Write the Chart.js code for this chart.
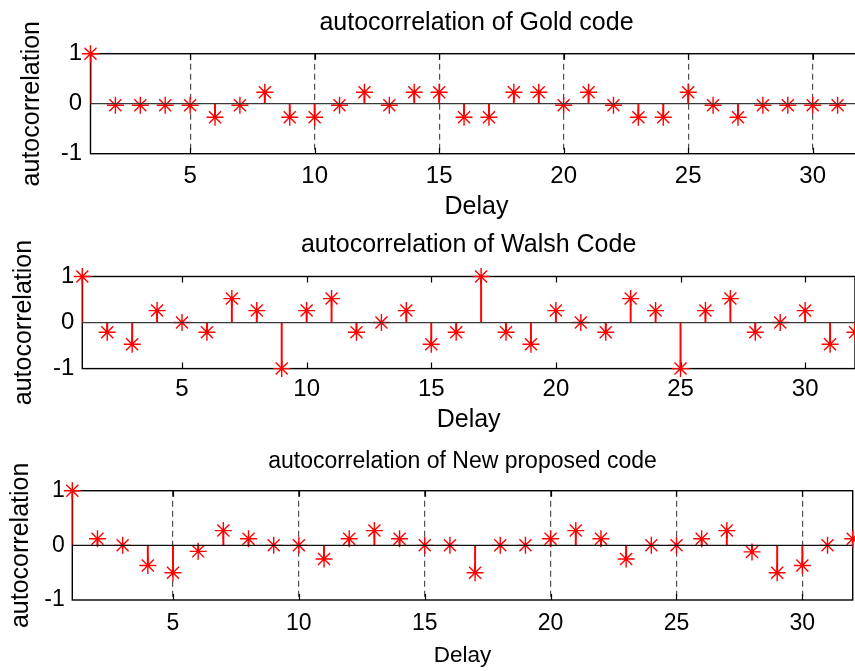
<!DOCTYPE html>
<html>
<head>
<meta charset="utf-8">
<title>Autocorrelation of spreading codes</title>
<script src="https://cdn.jsdelivr.net/npm/chart.js@4.4.1/dist/chart.umd.min.js"></script>
<style>
  html, body { margin: 0; padding: 0; background: #fff; overflow: hidden; }
  #fig { position: relative; width: 855px; height: 671px; overflow: hidden; background: #fff; }
  #fig canvas { position: absolute; left: 0; }
</style>
</head>
<body>
<div id="fig">
  <canvas id="gold" width="880" height="225" style="top:0px"></canvas>
  <canvas id="walsh" width="880" height="215" style="top:225px"></canvas>
  <canvas id="proposed" width="880" height="231" style="top:440px"></canvas>
</div>
<script>
// Delay index (lag) for each autocorrelation sample
const delays = [1, 2, 3, 4, 5, 6, 7, 8, 9, 10, 11, 12, 13, 14, 15, 16,
                17, 18, 19, 20, 21, 22, 23, 24, 25, 26, 27, 28, 29, 30, 31, 32];

// Normalised autocorrelation, Gold code (length 31)
const goldAutocorr = [1, -0.03, -0.03, -0.03, -0.03, -0.27, -0.03, 0.23, -0.27, -0.27,
                      -0.03, 0.23, -0.03, 0.23, 0.23, -0.27, -0.27, 0.23, 0.23, -0.03,
                      0.23, -0.03, -0.27, -0.27, 0.23, -0.03, -0.27, -0.03, -0.03, -0.03,
                      -0.03];

// Normalised autocorrelation, Walsh code
const walshAutocorr = [1, -0.21, -0.47, 0.26, 0, -0.21, 0.52, 0.26, -1, 0.26,
                       0.52, -0.21, 0, 0.26, -0.47, -0.21, 1, -0.21, -0.47, 0.26,
                       0, -0.21, 0.52, 0.26, -1, 0.26, 0.52, -0.21, 0, 0.26,
                       -0.47, -0.21];

// Normalised autocorrelation, new proposed code
const newCodeAutocorr = [1, 0.12, 0, -0.37, -0.5, -0.11, 0.27, 0.12, 0, 0,
                         -0.25, 0.12, 0.27, 0.12, 0, 0, -0.5, 0, 0, 0.12,
                         0.27, 0.12, -0.25, 0, 0, 0.12, 0.27, -0.12, -0.5, -0.37,
                         0, 0.12];

// Axis tick values
const xTickValues = [5, 10, 15, 20, 25, 30];
const yTickValues = [-1, 0, 1];

const FONT = '"Liberation Sans", Arial, Helvetica, sans-serif';
const STEM_RED = '#ff0000';

// Axes box, inward tick marks and the stem baseline
const framePlugin = {
  id: 'frame',
  beforeDatasetsDraw(chart) {
    const { ctx, chartArea: a } = chart;
    const xs = chart.scales.x;
    ctx.save();
    ctx.strokeStyle = '#000';
    ctx.lineWidth = 1.4;
    ctx.strokeRect(a.left, a.top, a.right - a.left, a.bottom - a.top);
    ctx.lineWidth = 1.2;
    ctx.beginPath();
    xTickValues.forEach(v => {
      const px = Math.round(xs.getPixelForValue(v)) + 0.5;
      ctx.moveTo(px, a.bottom); ctx.lineTo(px, a.bottom - 6);
      ctx.moveTo(px, a.top); ctx.lineTo(px, a.top + 6);
    });
    ctx.stroke();
    ctx.restore();
  },
  afterDatasetsDraw(chart, args, opts) {
    const { ctx, chartArea: a } = chart;
    const y0 = chart.scales.y.getPixelForValue(0);
    ctx.save();
    ctx.strokeStyle = opts.baselineColor || '#333';
    ctx.lineWidth = 1.2;
    ctx.beginPath();
    ctx.moveTo(a.left, y0);
    ctx.lineTo(a.right, y0);
    ctx.stroke();
    ctx.restore();
  }
};

function stemChart(canvasId, values, p) {
  const points = values.map((v, i) => ({ x: delays[i], y: v }));
  return new Chart(document.getElementById(canvasId), {
    type: 'line',
    data: {
      datasets: [
        {
          // stems from the zero baseline
          type: 'bar',
          data: points,
          backgroundColor: STEM_RED,
          borderWidth: 0,
          barThickness: 1.3,
          order: 2
        },
        {
          // '*' markers at each sample
          type: 'line',
          data: points,
          showLine: false,
          pointStyle: 'star',
          pointRadius: 8.5,
          pointHoverRadius: 8.5,
          pointBorderColor: STEM_RED,
          pointBackgroundColor: STEM_RED,
          pointBorderWidth: 1.4,
          clip: false,
          order: 1
        }
      ]
    },
    options: {
      responsive: false,
      animation: false,
      devicePixelRatio: 1,
      events: [],
      layout: { padding: { top: 0, left: 0, right: p.padRight, bottom: 0 } },
      plugins: {
        legend: { display: false },
        tooltip: { enabled: false },
        frame: { baselineColor: p.baselineColor },
        title: {
          display: true,
          text: p.title,
          fullSize: false,
          color: '#000',
          font: { family: FONT, size: p.titleSize, weight: 'normal', lineHeight: 1.2 },
          padding: { top: p.titlePadTop, bottom: p.titlePadBottom }
        }
      },
      scales: {
        x: {
          type: 'linear',
          min: 1,
          max: 32,
          offset: false,
          afterBuildTicks: s => { s.ticks = xTickValues.map(v => ({ value: v })); },
          afterFit: s => { s.height = p.xAxisHeight; s.paddingLeft = 0; s.paddingRight = 0; },
          ticks: {
            color: '#000',
            font: { family: FONT, size: p.tickSize, lineHeight: 1.2 },
            padding: p.xTickPad,
            maxRotation: 0,
            autoSkip: false,
            callback: v => String(v)
          },
          grid: { display: p.grid, drawTicks: false, color: '#505050', lineWidth: 1.2, offset: false },
          border: { display: false, dash: [6, 4] },
          title: {
            display: true,
            text: 'Delay',
            color: '#000',
            font: { family: FONT, size: p.xTitleSize, lineHeight: 1.2 },
            padding: { top: 0, bottom: p.xTitlePad }
          }
        },
        y: {
          type: 'linear',
          min: -1,
          max: 1,
          afterBuildTicks: s => { s.ticks = yTickValues.map(v => ({ value: v })); },
          afterFit: s => { s.width = p.yAxisWidth; s.paddingTop = 0; s.paddingBottom = 0; },
          ticks: {
            color: '#000',
            font: { family: FONT, size: p.tickSize, lineHeight: 1.2 },
            padding: p.yTickPad,
            callback: v => String(v)
          },
          grid: { display: false, drawTicks: false },
          border: { display: false },
          title: {
            display: true,
            text: 'autocorrelation',
            color: '#000',
            font: { family: FONT, size: 25, lineHeight: 1.2 },
            padding: { top: p.yTitlePad, bottom: 0 }
          }
        }
      }
    },
    plugins: [framePlugin]
  });
}

stemChart('gold', goldAutocorr, {
  title: 'autocorrelation of Gold code', titleSize: 25, titlePadTop: 7.8, titlePadBottom: 15.9,
  padRight: 17.5, yAxisWidth: 90.5, xAxisHeight: 71.3,
  tickSize: 24, xTickPad: 8.2, yTickPad: 8.5,
  xTitleSize: 25, xTitlePad: 2.5, yTitlePad: 17.5,
  grid: true, baselineColor: '#3a3a3a'
});

stemChart('walsh', walshAutocorr, {
  title: 'autocorrelation of Walsh Code', titleSize: 25, titlePadTop: 5.6, titlePadBottom: 15.9,
  padRight: 25, yAxisWidth: 82.3, xAxisHeight: 71.4,
  tickSize: 24, xTickPad: 6.7, yTickPad: 8,
  xTitleSize: 25, xTitlePad: 4.5, yTitlePad: 9,
  grid: false, baselineColor: '#3a3a3a'
});

stemChart('proposed', newCodeAutocorr, {
  title: 'autocorrelation of New proposed code', titleSize: 23, titlePadTop: 7.5, titlePadBottom: 15.6,
  padRight: 27.3, yAxisWidth: 72.3, xAxisHeight: 71,
  tickSize: 23, xTickPad: 9.5, yTickPad: 7.5,
  xTitleSize: 22.5, xTitlePad: 1.3, yTitlePad: 6,
  grid: true, baselineColor: '#111'
});
</script>
</body>
</html>
